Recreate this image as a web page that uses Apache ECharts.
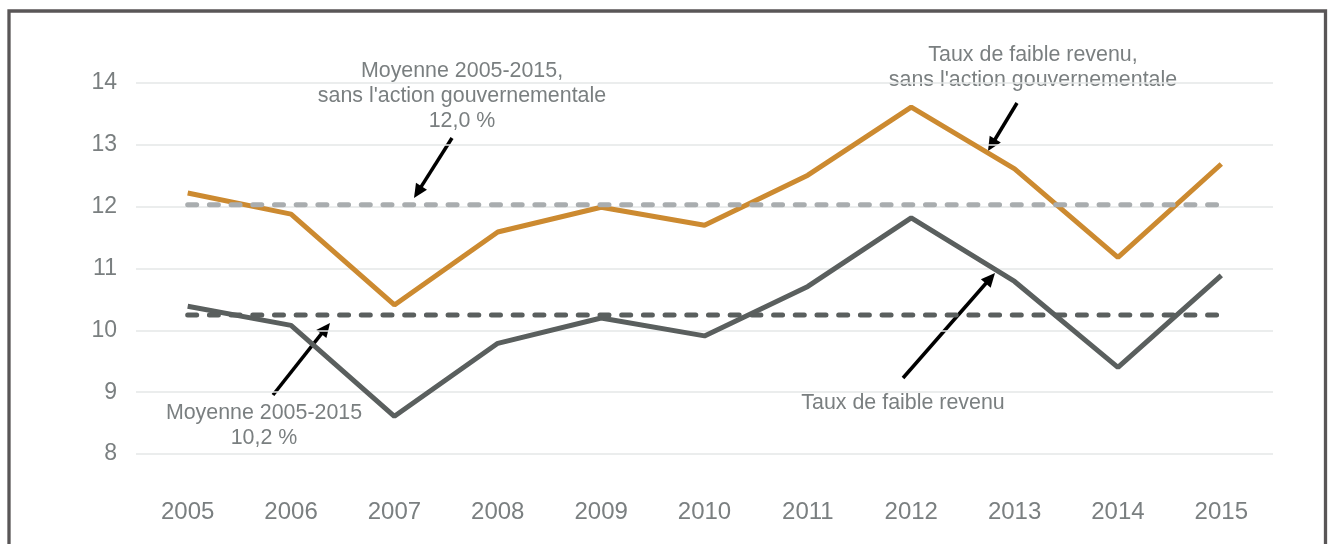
<!DOCTYPE html>
<html>
<head>
<meta charset="utf-8">
<script src="https://cdn.jsdelivr.net/npm/echarts@6/dist/echarts.min.js"></script>
<style>
  html, body { margin: 0; padding: 0; background: #fff; }
  #chart { width: 1334px; height: 544px; }
</style>
</head>
<body>
<div id="chart"></div>
<script>
// categories
var years = ['2005', '2006', '2007', '2008', '2009', '2010', '2011', '2012', '2013', '2014', '2015']
// taux de faible revenu, sans l'action gouvernementale
var tauxSansAction = [12.22, 11.88, 10.41, 11.59, 11.99, 11.70, 12.51, 13.61, 12.61, 11.18, 12.69]
// taux de faible revenu
var tauxFaible = [10.39, 10.08, 8.61, 9.79, 10.20, 9.91, 10.71, 11.82, 10.79, 9.40, 10.89]
// moyennes 2005-2015
var moyenneSansAction = [12.03, 12.03, 12.03, 12.03, 12.03, 12.03, 12.03, 12.03, 12.03, 12.03, 12.03]
var moyenneFaible = [10.25, 10.25, 10.25, 10.25, 10.25, 10.25, 10.25, 10.25, 10.25, 10.25, 10.25]
var yTicks = [8, 9, 10, 11, 12, 13, 14]

var FONT = "'Liberation Sans', Arial, sans-serif"
var TXT = '#7a7f80'

function arrow(x1, y1, x2, y2) {
  var dx = x2 - x1, dy = y2 - y1
  var len = Math.sqrt(dx * dx + dy * dy)
  var ux = dx / len, uy = dy / len
  var hl = 14, hw = 6.5
  var bx = x2 - ux * hl, by = y2 - uy * hl
  return {
    type: 'group',
    children: [
      {
        type: 'line',
        shape: { x1: x1, y1: y1, x2: bx + ux * 2, y2: by + uy * 2 },
        style: { stroke: '#000', lineWidth: 3.5 }
      },
      {
        type: 'polygon',
        shape: { points: [[x2, y2], [bx - uy * hw, by + ux * hw], [bx + uy * hw, by - ux * hw]] },
        style: { fill: '#000' }
      }
    ]
  }
}

function note(text, x, y) {
  return {
    type: 'text',
    x: x,
    y: y,
    style: {
      text: text,
      fill: TXT,
      font: '21.4px ' + FONT,
      align: 'center',
      verticalAlign: 'middle',
      lineHeight: 25
    }
  }
}

var chart = echarts.init(document.getElementById('chart'))
chart.setOption({
  animation: false,
  backgroundColor: '#fff',
  grid: { left: 136, right: 61, top: 83, bottom: 90 },
  xAxis: {
    type: 'category',
    data: years,
    boundaryGap: true,
    axisLine: { show: false },
    axisTick: { show: false },
    axisLabel: { color: TXT, fontSize: 24, fontFamily: FONT, margin: 46 }
  },
  yAxis: {
    type: 'value',
    min: yTicks[0],
    max: yTicks[yTicks.length - 1],
    interval: 1,
    axisLine: { show: false },
    axisTick: { show: false },
    axisLabel: { color: TXT, fontSize: 23, fontFamily: FONT, margin: 19, padding: [6, 0, 0, 0] },
    splitLine: { lineStyle: { color: '#e5e7e7', width: 1.5 } }
  },
  series: [
    {
      name: "Taux de faible revenu, sans l'action gouvernementale",
      type: 'line',
      data: tauxSansAction,
      symbol: 'none',
      lineStyle: { color: '#cc8a30', width: 5 },
      z: 2
    },
    {
      name: 'Taux de faible revenu',
      type: 'line',
      data: tauxFaible,
      symbol: 'none',
      lineStyle: { color: '#5a5f5e', width: 5 },
      z: 2
    },
    {
      name: "Moyenne 2005-2015, sans l'action gouvernementale",
      type: 'line',
      data: moyenneSansAction,
      symbol: 'none',
      lineStyle: { color: '#a9adaf', width: 5, type: [9, 12.7], cap: 'round' },
      z: 3
    },
    {
      name: 'Moyenne 2005-2015',
      type: 'line',
      data: moyenneFaible,
      symbol: 'none',
      lineStyle: { color: '#5a5f5e', width: 5, type: [9, 12.7], cap: 'round' },
      z: 3
    }
  ],
  graphic: [
    {
      type: 'rect',
      shape: { x: 9, y: 11, width: 1316.5, height: 600 },
      style: { fill: null, stroke: '#595657', lineWidth: 3.3 },
      silent: true
    },
    note("Moyenne 2005-2015,\nsans l'action gouvernementale\n12,0 %", 462, 96),
    note("Taux de faible revenu,\nsans l'action gouvernementale", 1033, 68),
    note('Taux de faible revenu', 903, 403),
    note('Moyenne 2005-2015\n10,2 %', 264, 426),
    arrow(452, 138, 414, 198),
    arrow(1017, 103, 988, 151),
    arrow(273, 395, 330, 323),
    arrow(903, 378, 995, 273)
  ]
})
</script>
</body>
</html>
